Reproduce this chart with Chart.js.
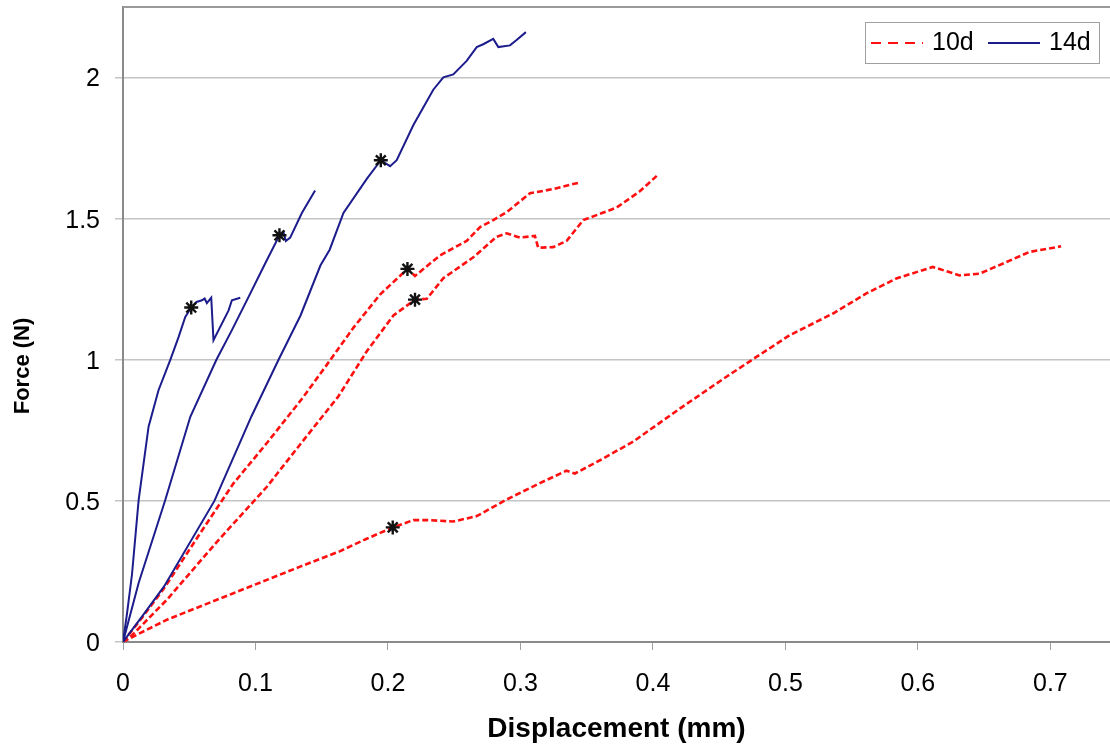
<!DOCTYPE html>
<html>
<head>
<meta charset="utf-8">
<script src="https://cdn.jsdelivr.net/npm/chart.js@4.4.1/dist/chart.umd.min.js"></script>
<style>
  html, body { margin: 0; padding: 0; background: #fff; overflow: hidden; }
  canvas { display: block; }
</style>
</head>
<body>
<canvas id="forceChart" width="1110" height="749"></canvas>
<script>
// 14 day specimens (solid blue)
const disp14a = [0, 0.003, 0.0068, 0.0118, 0.0193, 0.0268, 0.0357, 0.042, 0.047, 0.0515, 0.0555, 0.0596, 0.0616, 0.0633, 0.0666, 0.0683, 0.0797, 0.0822, 0.0885];
const force14a = [0, 0.1, 0.24, 0.503, 0.763, 0.892, 1.0, 1.081, 1.152, 1.185, 1.205, 1.211, 1.217, 1.201, 1.22, 1.069, 1.175, 1.211, 1.22];

const disp14b = [0, 0.0118, 0.0319, 0.0508, 0.0705, 0.0822, 0.0947, 0.1073, 0.1181, 0.1211, 0.1229, 0.1262, 0.135, 0.145];
const force14b = [0, 0.209, 0.503, 0.798, 1.0, 1.105, 1.222, 1.341, 1.441, 1.452, 1.421, 1.433, 1.52, 1.6];

const disp14c = [0, 0.0143, 0.031, 0.069, 0.097, 0.1174, 0.134, 0.149, 0.156, 0.1664, 0.184, 0.1946, 0.2016, 0.2066, 0.2192, 0.2342, 0.2418, 0.2493, 0.2594, 0.267, 0.2719, 0.2795, 0.2833, 0.2921, 0.2971, 0.3041];
const force14c = [0, 0.09, 0.197, 0.5, 0.8, 1.0, 1.157, 1.334, 1.39, 1.52, 1.641, 1.707, 1.686, 1.707, 1.832, 1.957, 2.001, 2.011, 2.059, 2.108, 2.118, 2.137, 2.108, 2.114, 2.133, 2.161];

// 10 day specimens (dashed red)
const disp10a = [0, 0.015, 0.032, 0.0583, 0.0834, 0.1086, 0.1348, 0.1538, 0.174, 0.194, 0.2147, 0.2204, 0.2393, 0.2594, 0.2695, 0.2795, 0.2896, 0.3072, 0.3247, 0.3436];
const force10a = [0, 0.09, 0.197, 0.386, 0.562, 0.705, 0.86, 0.982, 1.114, 1.231, 1.322, 1.297, 1.37, 1.421, 1.47, 1.495, 1.523, 1.59, 1.605, 1.627];

const disp10b = [0, 0.006, 0.0332, 0.0709, 0.1086, 0.1337, 0.1625, 0.184, 0.2041, 0.2204, 0.2293, 0.2418, 0.2644, 0.282, 0.2896, 0.2996, 0.3109, 0.3134, 0.3247, 0.3348, 0.3474, 0.36, 0.3725, 0.3901, 0.4039];
const force10b = [0, 0.02, 0.15, 0.355, 0.55, 0.7, 0.87, 1.03, 1.157, 1.213, 1.216, 1.289, 1.363, 1.436, 1.448, 1.433, 1.439, 1.397, 1.399, 1.421, 1.495, 1.517, 1.539, 1.597, 1.656];

const disp10c = [0, 0.0055, 0.0332, 0.0834, 0.1337, 0.1639, 0.184, 0.2036, 0.2192, 0.2293, 0.2493, 0.267, 0.2896, 0.3147, 0.3348, 0.3411, 0.36, 0.3851, 0.4203, 0.4555, 0.4781, 0.5032, 0.5359, 0.5611, 0.5837, 0.6113, 0.6314, 0.6465, 0.6667, 0.6842, 0.7081];
const force10c = [0, 0.014, 0.079, 0.173, 0.267, 0.322, 0.366, 0.406, 0.432, 0.432, 0.427, 0.446, 0.505, 0.563, 0.607, 0.597, 0.644, 0.71, 0.827, 0.94, 1.01, 1.087, 1.164, 1.235, 1.288, 1.329, 1.299, 1.305, 1.346, 1.382, 1.402];

// marked points (black asterisks)
const markDisp = [0.0515, 0.1181, 0.1946, 0.2147, 0.2204, 0.2036];
const markForce = [1.185, 1.441, 1.707, 1.322, 1.213, 0.406];

const xTicks = [0, 0.1, 0.2, 0.3, 0.4, 0.5, 0.6, 0.7];
const yTicks = [0, 0.5, 1, 1.5, 2];

const red = "#ff1010";
const blue = "#1c1c8c";
const font = "'Liberation Sans', Arial, sans-serif";

function pts(xs, ys) {
  return xs.map((x, i) => ({ x: x, y: ys[i] }));
}

function curve(xs, ys, is10d) {
  return {
    data: pts(xs, ys),
    showLine: true,
    borderColor: is10d ? red : blue,
    borderWidth: is10d ? 2.6 : 2,
    borderDash: is10d ? [6, 3] : [],
    pointRadius: 0,
    tension: 0,
  };
}

const groups = [
  { label: "10d", color: red, dash: [10, 7] },
  { label: "14d", color: blue, dash: [] },
];

const extras = {
  id: "extras",
  afterDraw(chart) {
    var ctx = chart.ctx;
    var area = chart.chartArea;
    ctx.save();
    ctx.strokeStyle = "#9a9a9a";
    ctx.lineWidth = 2;
    ctx.beginPath();
    ctx.moveTo(area.left, area.top);
    ctx.lineTo(area.right, area.top);
    ctx.stroke();

    // y axis title
    ctx.save();
    ctx.translate(23, 366);
    ctx.rotate(-Math.PI / 2);
    ctx.font = "bold 22px " + font;
    ctx.fillStyle = "#000";
    ctx.textAlign = "center";
    ctx.textBaseline = "middle";
    ctx.fillText("Force (N)", 0, 0);
    ctx.restore();

    // legend box
    ctx.fillStyle = "#fff";
    ctx.fillRect(865, 22, 234, 41);
    ctx.strokeStyle = "#a0a0a0";
    ctx.lineWidth = 1;
    ctx.strokeRect(865.5, 22.5, 234, 41);
    ctx.font = "25px " + font;
    ctx.textBaseline = "middle";
    ctx.textAlign = "left";
    var x = 871;
    groups.forEach(function (g) {
      ctx.strokeStyle = g.color;
      ctx.lineWidth = 2;
      ctx.setLineDash(g.dash);
      ctx.beginPath();
      ctx.moveTo(x, 43);
      ctx.lineTo(x + 52, 43);
      ctx.stroke();
      ctx.setLineDash([]);
      ctx.fillStyle = "#000";
      ctx.fillText(g.label, x + 61, 43);
      x += 117;
    });
    ctx.restore();
  },
};

new Chart(document.getElementById("forceChart"), {
  type: "scatter",
  data: {
    datasets: [
      {
        data: pts(markDisp, markForce),
        pointStyle: "star",
        pointRadius: 7,
        borderColor: "#111",
        backgroundColor: "#111",
        borderWidth: 2.4,
        showLine: false,
      },
      curve(disp14a, force14a, false),
      curve(disp14b, force14b, false),
      curve(disp14c, force14c, false),
      curve(disp10a, force10a, true),
      curve(disp10b, force10b, true),
      curve(disp10c, force10c, true),
    ],
  },
  options: {
    responsive: false,
    animation: false,
    layout: { autoPadding: false, padding: { top: 7, right: 0, bottom: 0, left: 0 } },
    plugins: { legend: { display: false }, tooltip: { enabled: false } },
    scales: {
      x: {
        type: "linear",
        min: 0,
        max: 0.745,
        afterBuildTicks: function (scale) {
          scale.ticks = xTicks.map((v) => ({ value: v }));
        },
        afterFit: function (scale) {
          scale.height = 107;
          scale.paddingLeft = 0;
          scale.paddingRight = 0;
        },
        border: { color: "#8a8a8a", width: 2 },
        grid: { drawOnChartArea: false, tickLength: 8, tickColor: "#a0a0a0" },
        ticks: {
          padding: 19,
          color: "#000",
          font: { family: font, size: 25 },
          callback: (v) => String(v),
        },
        title: {
          display: true,
          text: "Displacement (mm)",
          color: "#000",
          font: { family: font, size: 28, weight: "bold" },
          padding: { top: 0, bottom: 3 },
        },
      },
      y: {
        type: "linear",
        min: 0,
        max: 2.25,
        afterBuildTicks: function (scale) {
          scale.ticks = yTicks.map((v) => ({ value: v }));
        },
        afterFit: function (scale) {
          scale.width = 123;
          scale.paddingTop = 0;
          scale.paddingBottom = 0;
        },
        border: { color: "#8a8a8a", width: 2 },
        grid: { color: "#c4c4c4", lineWidth: 1.5, tickLength: 8 },
        ticks: {
          padding: 15,
          labelOffset: 2,
          color: "#000",
          font: { family: font, size: 25 },
          callback: (v) => String(v),
        },
      },
    },
  },
  plugins: [extras],
});
</script>
</body>
</html>
